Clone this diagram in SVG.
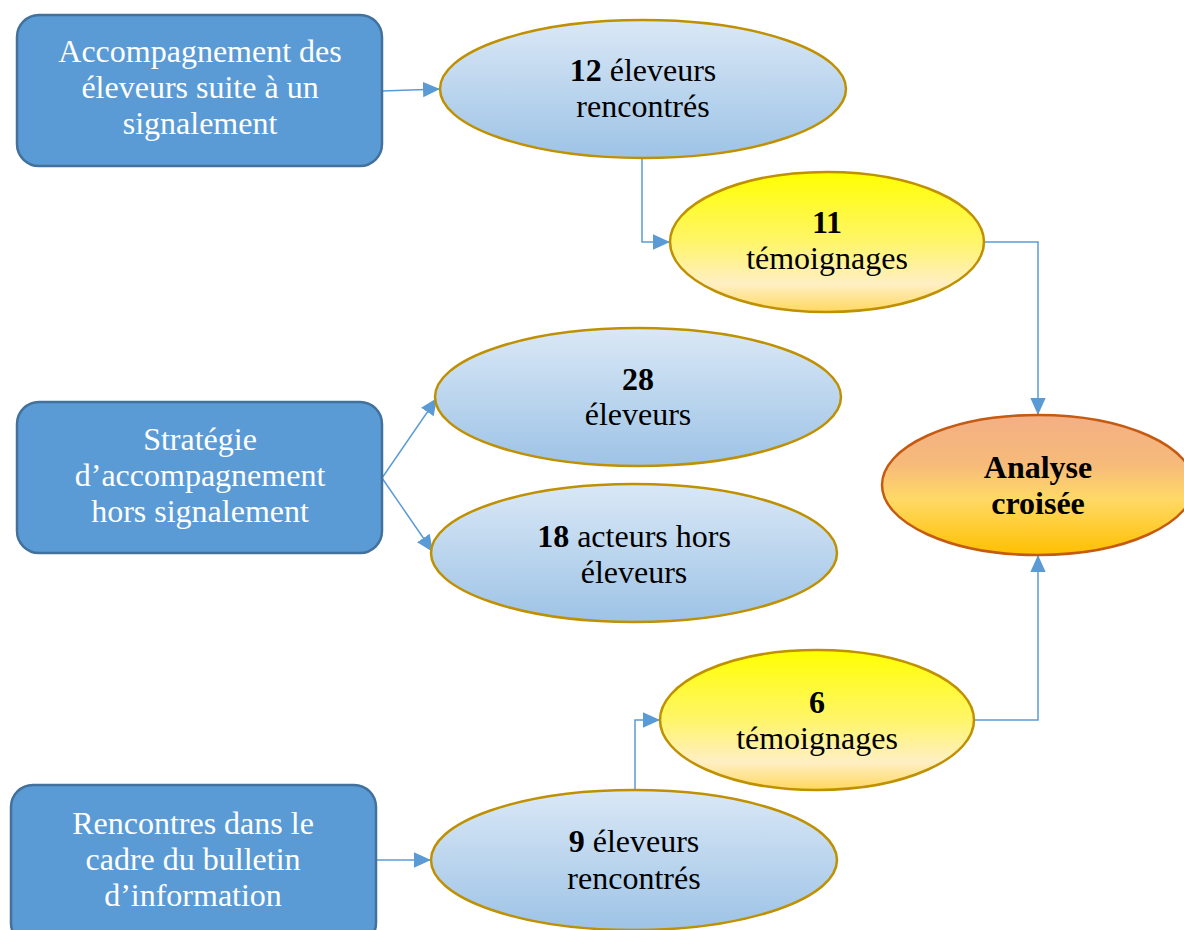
<svg xmlns="http://www.w3.org/2000/svg" width="1184" height="930" viewBox="0 0 1184 930">
<defs>
<linearGradient id="gBlue" x1="0" y1="0" x2="0" y2="1"><stop offset="0" stop-color="#DAE8F6"/><stop offset="1" stop-color="#9DC3E6"/></linearGradient>
<linearGradient id="gYel" x1="0" y1="0" x2="0" y2="1"><stop offset="0" stop-color="#FFFF00"/><stop offset="0.5" stop-color="#FFF56A"/><stop offset="0.8" stop-color="#FFEFC4"/><stop offset="1" stop-color="#FFD860"/></linearGradient>
<linearGradient id="gOr" x1="0" y1="0" x2="0" y2="1"><stop offset="0" stop-color="#F4AF84"/><stop offset="0.35" stop-color="#F6BA7A"/><stop offset="0.6" stop-color="#FFD966"/><stop offset="1" stop-color="#FFC000"/></linearGradient>
<marker id="arrL" viewBox="0 0 10 10" refX="10" refY="5" markerWidth="17" markerHeight="17" markerUnits="userSpaceOnUse" orient="auto"><path d="M0,0.5 L10,5 L0,9.5 z" fill="#5B9BD5"/></marker>
</defs>
<style>
.box{fill:#5B9BD5;stroke:#41719C;stroke-width:2.5}
.eb{fill:url(#gBlue);stroke:#BF9000;stroke-width:2.5}
.ey{fill:url(#gYel);stroke:#BF9000;stroke-width:2.5}
.eo{fill:url(#gOr);stroke:#C55A11;stroke-width:2.5}
text{font-family:'Liberation Serif','Times New Roman','DejaVu Serif',serif;font-size:32px;text-anchor:middle}
.tw{fill:#FFFFFF}
.tk{fill:#000000}
.b{font-weight:bold}
.c{fill:none;stroke:#5B9BD5;stroke-width:1.5;marker-end:url(#arrL)}
</style>
<rect width="1184" height="930" fill="#FFFFFF"/>
<g id="connectors">
<path class="c" d="M382,91 L440,89"/>
<path class="c" d="M642,158 L642,242 L670,242"/>
<path class="c" d="M985,242 L1038,242 L1038,415"/>
<path class="c" d="M382,478 L437,398"/>
<path class="c" d="M382,478 L433,552"/>
<path class="c" d="M376,860 L431,860"/>
<path class="c" d="M635,791 L635,720 L660,720"/>
<path class="c" d="M974,720 L1038,720 L1038,555"/>
</g>
<g id="box1"><rect class="box" x="17" y="15" width="365" height="151" rx="22"/>
<text class="tw" x="200" y="62">Accompagnement des</text><text class="tw" x="200" y="98">éleveurs suite à un</text><text class="tw" x="200" y="134">signalement</text></g>
<g id="box2"><rect class="box" x="17" y="402" width="365" height="151" rx="22"/>
<text class="tw" x="200" y="450">Stratégie</text><text class="tw" x="200" y="486">d’accompagnement</text><text class="tw" x="200" y="522">hors signalement</text></g>
<g id="box3"><rect class="box" x="11" y="785" width="365" height="160" rx="22"/>
<text class="tw" x="193" y="834">Rencontres dans le</text><text class="tw" x="193" y="870">cadre du bulletin</text><text class="tw" x="193" y="906">d’information</text></g>
<g id="eA"><ellipse class="eb" cx="643" cy="89" rx="203" ry="69"/>
<text class="tk" x="643" y="81"><tspan class="b">12</tspan> éleveurs</text><text class="tk" x="643" y="117">rencontrés</text></g>
<g id="eB"><ellipse class="ey" cx="827" cy="242" rx="157" ry="70"/>
<text class="tk b" x="827" y="233">11</text><text class="tk" x="827" y="269">témoignages</text></g>
<g id="eC"><ellipse class="eb" cx="638" cy="397" rx="203" ry="69"/>
<text class="tk b" x="638" y="390">28</text><text class="tk" x="638" y="425">éleveurs</text></g>
<g id="eD"><ellipse class="eb" cx="634" cy="553" rx="203" ry="69"/>
<text class="tk" x="634" y="547"><tspan class="b">18</tspan> acteurs hors</text><text class="tk" x="634" y="583">éleveurs</text></g>
<g id="eE"><ellipse class="eo" cx="1038" cy="485" rx="156" ry="70"/>
<text class="tk b" x="1038" y="478">Analyse</text><text class="tk b" x="1038" y="514">croisée</text></g>
<g id="eF"><ellipse class="ey" cx="817" cy="720" rx="157" ry="70"/>
<text class="tk b" x="817" y="713">6</text><text class="tk" x="817" y="749">témoignages</text></g>
<g id="eG"><ellipse class="eb" cx="634" cy="860" rx="203" ry="70"/>
<text class="tk" x="634" y="852"><tspan class="b">9</tspan> éleveurs</text><text class="tk" x="634" y="889">rencontrés</text></g>
</svg>
